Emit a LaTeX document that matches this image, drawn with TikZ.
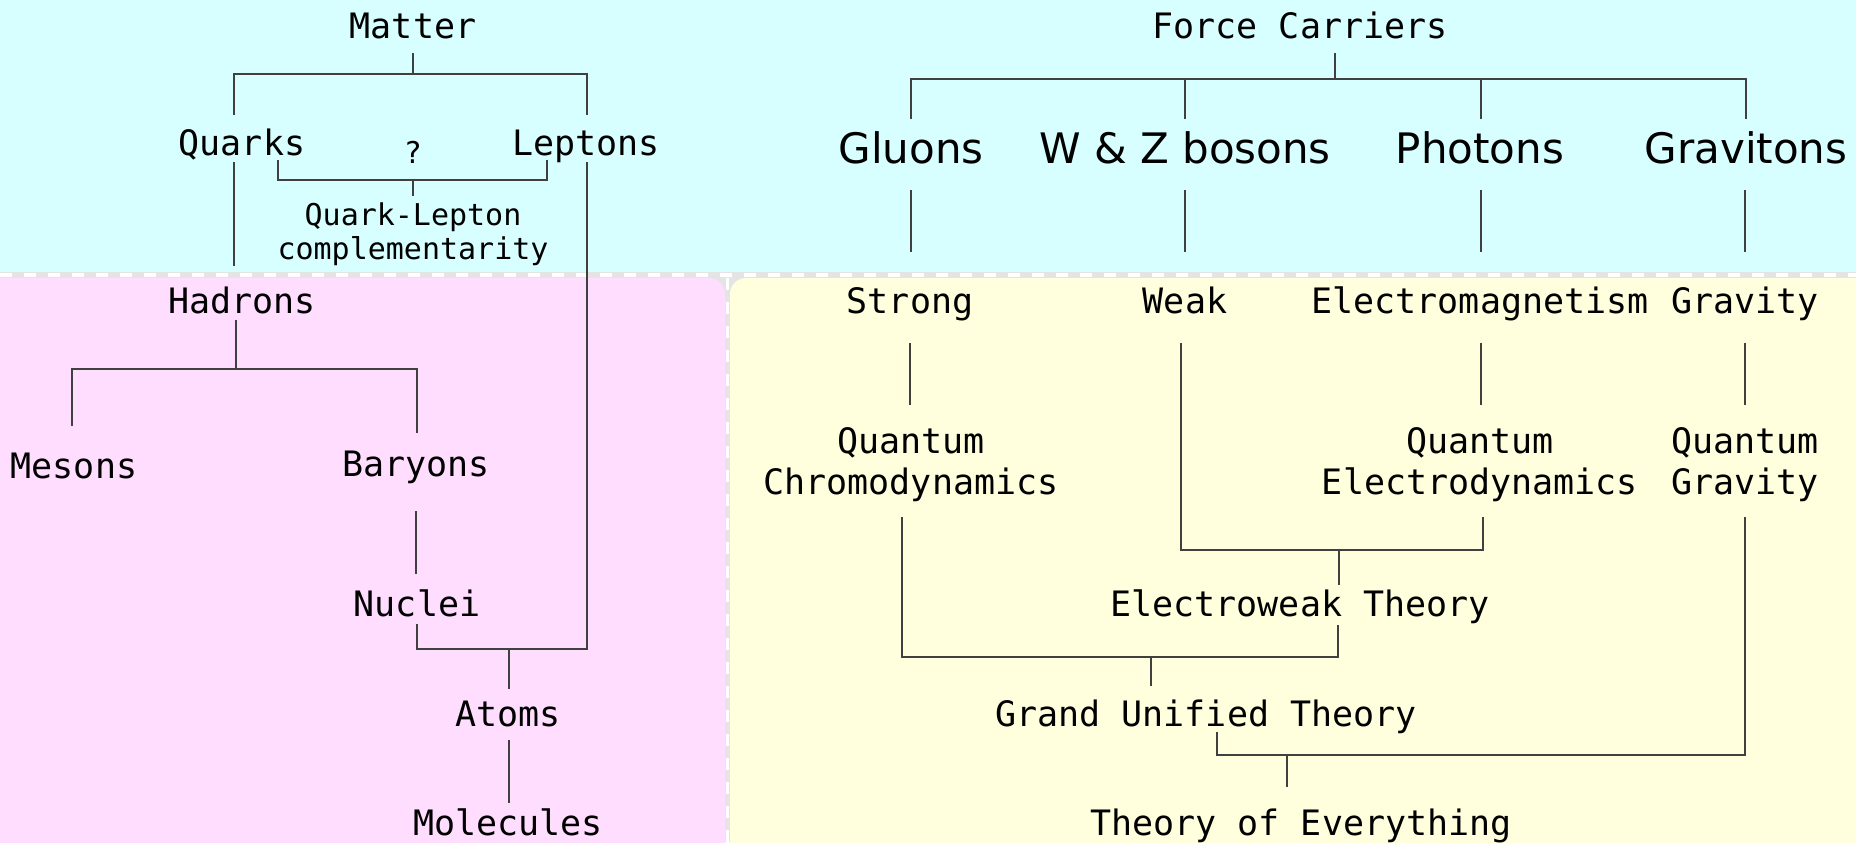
\documentclass[tikz,border=0pt]{standalone}
\usepackage{fontspec}
\setmonofont{DejaVu Sans Mono}
\setsansfont{DejaVu Sans}
\usepackage{xcolor}
\usepackage{tikz}
\usetikzlibrary{calc}
\definecolor{topbg}{RGB}{215,255,255}
\definecolor{matterbg}{RGB}{255,221,255}
\definecolor{forcebg}{RGB}{255,255,221}
\definecolor{seambg}{RGB}{228,228,228}
\tikzstyle{term} = [inner sep=0pt, text height=15pt, text depth=2.6pt, font=\fontsize{17.5}{20.5}\selectfont\ttfamily]
\tikzstyle{twoline} = [inner sep=0pt, align=center, font=\fontsize{17.5}{20.5}\selectfont\ttfamily]
\tikzstyle{smallterm} = [inner sep=0pt, align=center, font=\fontsize{15}{17}\selectfont\ttfamily]
\tikzstyle{carrier} = [inner sep=0pt, text height=18pt, text depth=3pt, font=\fontsize{21}{25}\selectfont\sffamily]
\tikzstyle{branch} = [draw=black!75, line width=1pt]

\begin{document}
\begin{tikzpicture}[x=0.5pt, y=-0.5pt]
    % backgrounds
    \fill[seambg] (0,0) rectangle (1856,842);
    \useasboundingbox (0,0) rectangle (1856,842);
    \fill[topbg] (0,0) rectangle (1856,272);
    \fill[matterbg, rounded corners=8pt] (-40,900) -- (-40,278) -- (725,278) -- (725,900) -- cycle;
    \fill[forcebg, rounded corners=8pt] (730,900) -- (730,278) -- (1900,278) -- (1900,900) -- cycle;
    \draw[white, line width=2pt, dash pattern=on 6pt off 6pt] (0,275) -- (1856,275);
    \draw[white, line width=1.5pt, dash pattern=on 6pt off 6pt] (727.5,278) -- (727.5,842);

    % matter side
    \node (matter) [term] at (413,26) {Matter};
    \node (quarks) [term] at (242,143) {Quarks};
    \node (leptons) [term] at (586,143) {Leptons};
    \node (qmark) [smallterm] at (413,152) {?};
    \node (qlc) [smallterm] at (413,234) {Quark-Lepton\\complementarity};
    \node (hadrons) [term] at (242,301) {Hadrons};
    \node (mesons) [term] at (74,466) {Mesons};
    \node (baryons) [term] at (416,464) {Baryons};
    \node (nuclei) [term] at (417,604) {Nuclei};
    \node (atoms) [term] at (508,714) {Atoms};
    \node (molecules) [term] at (508,823) {Molecules};

    % force side
    \node (fc) [term] at (1300,26) {Force Carriers};
    \node (gluons) [carrier] at (911,148) {Gluons};
    \node (wz) [carrier] at (1185,148) {W \& Z bosons};
    \node (photons) [carrier] at (1480,148) {Photons};
    \node (gravitons) [carrier] at (1746,148) {Gravitons};
    \node (strong) [term] at (910,301) {Strong};
    \node (weak) [term] at (1185,301) {Weak};
    \node (em) [term] at (1480,301) {Electromagnetism};
    \node (gravity) [term] at (1745,301) {Gravity};
    \node (qcd) [twoline] at (911,465) {Quantum\\Chromodynamics};
    \node (qed) [twoline] at (1480,465) {Quantum\\Electrodynamics};
    \node (qg) [twoline] at (1745,465) {Quantum\\Gravity};
    \node (ew) [term] at (1300,604) {Electroweak Theory};
    \node (gut) [term] at (1206,714) {Grand Unified Theory};
    \node (toe) [term] at (1301,823) {Theory of Everything};

    % matter links
    \draw [branch] ($(matter)+(0,27)$) -- ++(0,21);
    \draw [branch] ($(quarks)+(-8,-28)$) -- ++(0,-41) -| ($(leptons)+(1,-28)$);
    \draw [branch] ($(quarks)+(36,17)$) -- ++(0,20) -| ($(leptons)+(-39,17)$);
    \draw [branch] ($(qlc)+(0,-38)$) -- ++(0,-16);
    \draw [branch] ($(quarks)+(-8,19)$) -- ($(hadrons)+(-8,-35)$);
    \draw [branch] ($(leptons)+(1,19)$) |- ($(nuclei)+(0,45)$) -- ($(nuclei)+(0,20)$);
    \draw [branch] ($(atoms)+(1,-65)$) -- ($(atoms)+(1,-25)$);
    \draw [branch] ($(hadrons)+(-6,19)$) -- ++(0,49);
    \draw [branch] ($(mesons)+(-2,-40)$) -- ++(0,-57) -| ($(baryons)+(1,-31)$);
    \draw [branch] ($(baryons)+(0,47)$) -- ($(nuclei)+(-1,-30)$);
    \draw [branch] ($(atoms)+(1,26)$) -- ($(molecules)+(1,-20)$);

    % force links
    \draw [branch] ($(fc)+(35,27)$) -- ++(0,26);
    \draw [branch] ($(gluons)+(0,-29)$) -- ++(0,-40) -| ($(gravitons)+(0,-29)$);
    \draw [branch] ($(wz)+(0,-29)$) -- ++(0,-40);
    \draw [branch] ($(photons)+(1,-29)$) -- ++(0,-40);
    \draw [branch] ($(gluons)+(0,42)$) -- ($(strong)+(1,-49)$);
    \draw [branch] ($(wz)+(0,42)$) -- ($(weak)+(0,-49)$);
    \draw [branch] ($(photons)+(1,42)$) -- ($(em)+(1,-49)$);
    \draw [branch] ($(gravitons)+(-1,42)$) -- ($(gravity)+(0,-49)$);
    \draw [branch] ($(strong)+(0,42)$) -- ($(qcd)+(-1,-60)$);
    \draw [branch] ($(em)+(1,42)$) -- ($(qed)+(1,-60)$);
    \draw [branch] ($(gravity)+(0,42)$) -- ($(qg)+(0,-60)$);
    \draw [branch] ($(weak)+(-4,42)$) |- ($(qed)+(3,85)$) -- ($(qed)+(3,52)$);
    \draw [branch] ($(ew)+(39,-54)$) -- ($(ew)+(39,-19)$);
    \draw [branch] ($(qcd)+(-9,52)$) |- ($(ew)+(38,53)$) -- ($(ew)+(38,21)$);
    \draw [branch] ($(gut)+(-55,-57)$) -- ($(gut)+(-55,-28)$);
    \draw [branch] ($(gut)+(11,18)$) |- ($(qg)+(0,290)$) -- ($(qg)+(0,52)$);
    \draw [branch] ($(toe)+(-14,-68)$) -- ($(toe)+(-14,-36)$);
\end{tikzpicture}
\end{document}
